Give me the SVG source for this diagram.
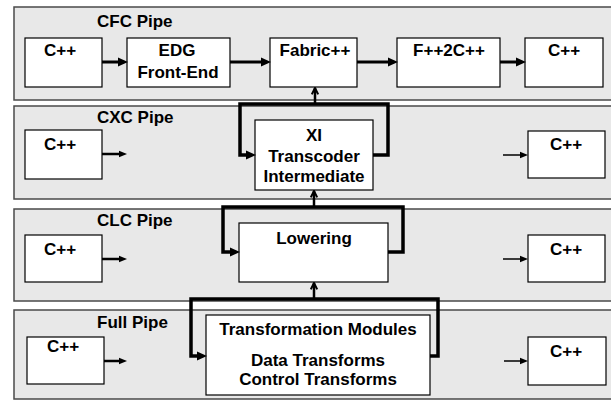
<svg xmlns="http://www.w3.org/2000/svg" width="611" height="400" viewBox="0 0 611 400">
  <defs>
    <style>
      .panel { fill: #e8e8e8; stroke: #4a4a4a; stroke-width: 1.5; }
      .box { fill: #ffffff; stroke: #000000; stroke-width: 1.2; }
      .lbl { font-family: "Liberation Sans", Arial, sans-serif; font-weight: bold; font-size: 17px; fill: #000; }
      .mid { text-anchor: middle; }
      .flow { fill: none; stroke: #000; stroke-width: 3; }
      .feed { fill: none; stroke: #000; stroke-width: 2.5; }
      .thin { fill: none; stroke: #000; stroke-width: 1.5; }
      .loop { fill: none; stroke: #000; stroke-width: 3.5; }
      .up { fill: none; stroke: #000; stroke-width: 2.5; }
    </style>
    <marker id="head" viewBox="0 0 10 10" refX="0" refY="5" markerUnits="userSpaceOnUse" markerWidth="10" markerHeight="10" orient="auto">
      <path d="M0,0.5 L10,5 L0,9.5 z" fill="#000"/>
    </marker>
    <marker id="headS" viewBox="0 0 10 10" refX="0" refY="5" markerUnits="userSpaceOnUse" markerWidth="8" markerHeight="8" orient="auto">
      <path d="M0,1 L10,5 L0,9 z" fill="#000"/>
    </marker>
    <marker id="chev" viewBox="0 0 10 10" refX="9" refY="5" markerUnits="userSpaceOnUse" markerWidth="8" markerHeight="9" orient="auto">
      <path d="M1,1 L9,5 L1,9" fill="none" stroke="#000" stroke-width="2.5"/>
    </marker>
  </defs>

  <!-- pipeline bands -->
  <g id="panels">
    <rect class="panel" x="14" y="7" width="610" height="93"/>
    <rect class="panel" x="14" y="106" width="610" height="93"/>
    <rect class="panel" x="14" y="209" width="610" height="92"/>
    <rect class="panel" x="14" y="310" width="610" height="89"/>
    <text class="lbl" x="97" y="27">CFC Pipe</text>
    <text class="lbl" x="97" y="123">CXC Pipe</text>
    <text class="lbl" x="97" y="226">CLC Pipe</text>
    <text class="lbl" x="97" y="328">Full Pipe</text>
  </g>

  <!-- CFC pipe stages -->
  <g id="cfc-cpp-in">
    <rect class="box" x="25" y="38" width="77" height="49"/>
    <text class="lbl mid" x="60" y="56">C++</text>
  </g>
  <g id="cfc-edg">
    <rect class="box" x="127" y="38" width="103" height="49"/>
    <text class="lbl mid" x="177" y="56">EDG</text>
    <text class="lbl mid" x="178" y="78">Front-End</text>
  </g>
  <g id="cfc-fabric">
    <rect class="box" x="270" y="38" width="87" height="49"/>
    <text class="lbl mid" x="315" y="56">Fabric++</text>
  </g>
  <g id="cfc-f2c">
    <rect class="box" x="397" y="38" width="103" height="49"/>
    <text class="lbl mid" x="449" y="56">F++2C++</text>
  </g>
  <g id="cfc-cpp-out">
    <rect class="box" x="525" y="38" width="78" height="49"/>
    <text class="lbl mid" x="564" y="56">C++</text>
  </g>

  <!-- CXC pipe stages -->
  <g id="cxc-cpp-in">
    <rect class="box" x="25" y="130" width="77" height="49"/>
    <text class="lbl mid" x="60" y="150">C++</text>
  </g>
  <g id="cxc-xi">
    <rect class="box" x="255" y="120" width="118" height="70"/>
    <text class="lbl mid" x="314" y="141">XI</text>
    <text class="lbl mid" x="314" y="162">Transcoder</text>
    <text class="lbl mid" x="314" y="182">Intermediate</text>
  </g>
  <g id="cxc-cpp-out">
    <rect class="box" x="528" y="131" width="77" height="47"/>
    <text class="lbl mid" x="566" y="150">C++</text>
  </g>

  <!-- CLC pipe stages -->
  <g id="clc-cpp-in">
    <rect class="box" x="25" y="235" width="77" height="47"/>
    <text class="lbl mid" x="60" y="255">C++</text>
  </g>
  <g id="clc-lowering">
    <rect class="box" x="239" y="223" width="149" height="59"/>
    <text class="lbl mid" x="314" y="244">Lowering</text>
  </g>
  <g id="clc-cpp-out">
    <rect class="box" x="528" y="235" width="77" height="47"/>
    <text class="lbl mid" x="566" y="255">C++</text>
  </g>

  <!-- Full pipe stages -->
  <g id="full-cpp-in">
    <rect class="box" x="27" y="337" width="77" height="47"/>
    <text class="lbl mid" x="63" y="352">C++</text>
  </g>
  <g id="full-transform">
    <rect class="box" x="206" y="315" width="224" height="80"/>
    <text class="lbl mid" x="318" y="335">Transformation Modules</text>
    <text class="lbl mid" x="318" y="366">Data Transforms</text>
    <text class="lbl mid" x="318" y="385">Control Transforms</text>
  </g>
  <g id="full-cpp-out">
    <rect class="box" x="528" y="337" width="78" height="48"/>
    <text class="lbl mid" x="566" y="357">C++</text>
  </g>

  <!-- connectors -->
  <g id="connectors">
    <!-- CFC chain -->
    <line class="flow" x1="102" y1="62" x2="118" y2="62" marker-end="url(#head)"/>
    <line class="flow" x1="230" y1="62" x2="261" y2="62" marker-end="url(#head)"/>
    <line class="flow" x1="357" y1="62" x2="388" y2="62" marker-end="url(#head)"/>
    <line class="flow" x1="500" y1="62" x2="516" y2="62" marker-end="url(#head)"/>

    <!-- CXC -->
    <line class="feed" x1="102" y1="154" x2="119" y2="154" marker-end="url(#headS)"/>
    <line class="thin" x1="503" y1="155" x2="520" y2="155" marker-end="url(#headS)"/>
    <path class="loop" d="M373,155 H388 V104 H240 V155 H246" marker-end="url(#head)"/>
    <line class="up" x1="315" y1="104" x2="315" y2="88" marker-end="url(#chev)"/>

    <!-- CLC -->
    <line class="feed" x1="102" y1="259" x2="119" y2="259" marker-end="url(#headS)"/>
    <line class="thin" x1="503" y1="259" x2="520" y2="259" marker-end="url(#headS)"/>
    <path class="loop" d="M388,252 H403 V207 H223 V252 H230" marker-end="url(#head)"/>
    <line class="up" x1="314" y1="207" x2="314" y2="191" marker-end="url(#chev)"/>

    <!-- Full -->
    <line class="feed" x1="104" y1="361" x2="119" y2="361" marker-end="url(#headS)"/>
    <line class="thin" x1="504" y1="361" x2="520" y2="361" marker-end="url(#headS)"/>
    <path class="loop" d="M430,356 H438 V299 H191 V356 H197" marker-end="url(#head)"/>
    <line class="up" x1="314" y1="299" x2="314" y2="283" marker-end="url(#chev)"/>
  </g>
</svg>
